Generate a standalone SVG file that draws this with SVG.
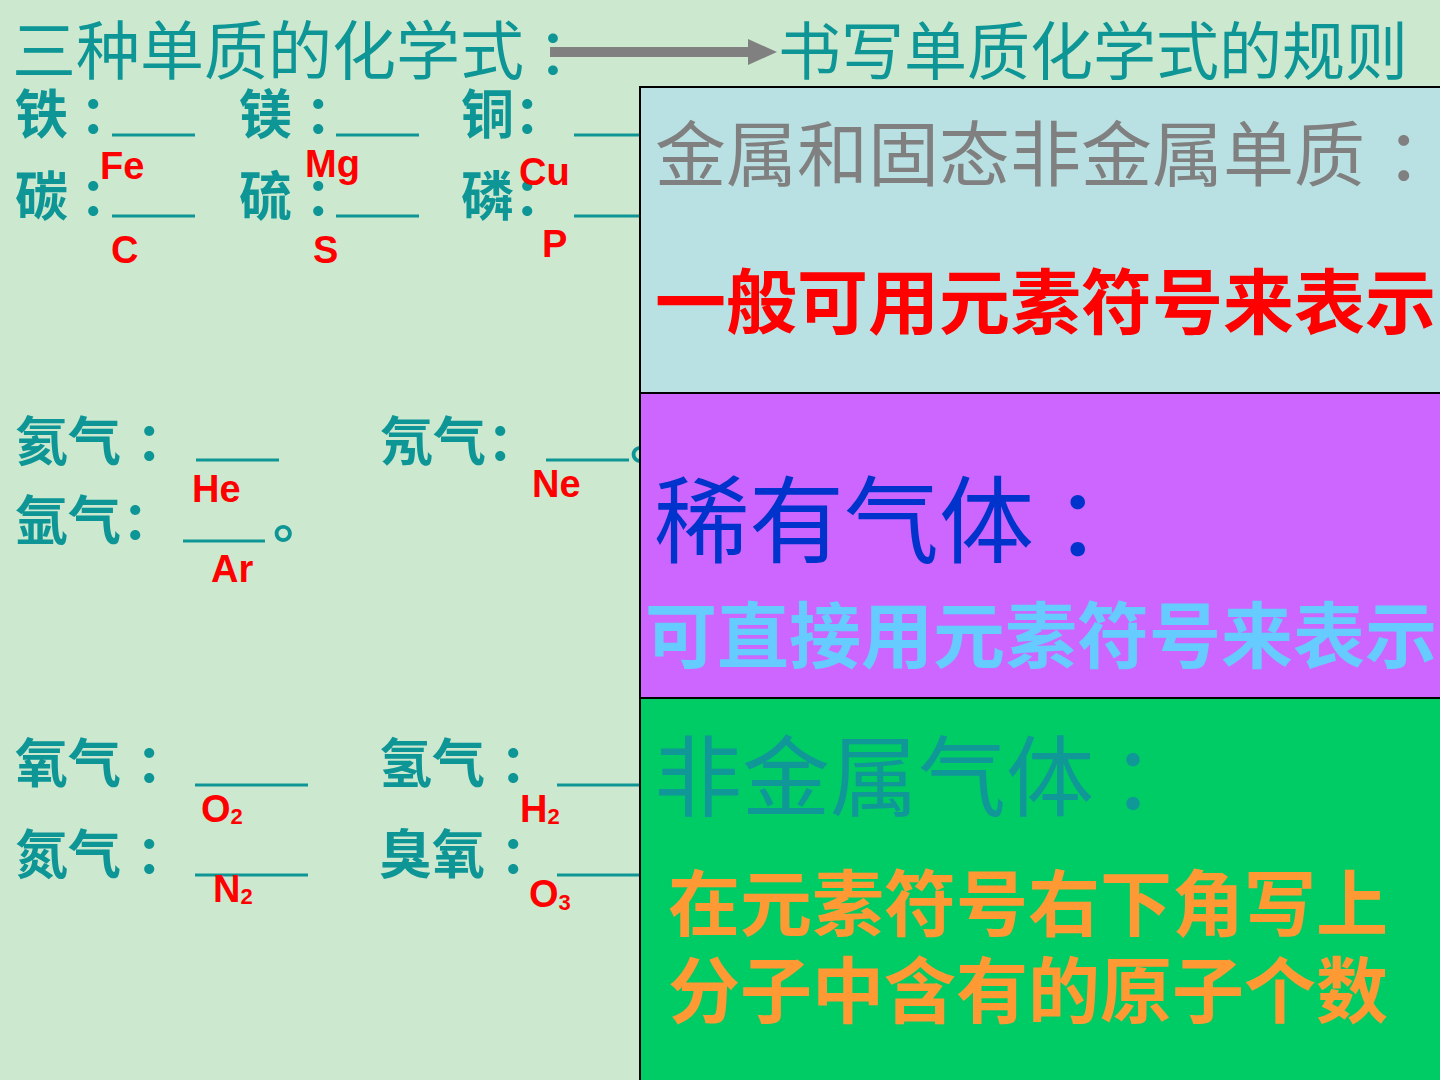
<svg xmlns="http://www.w3.org/2000/svg" width="1440" height="1080" viewBox="0 0 1440 1080">
<defs>
<style>
.cjk{font-family:"Noto Sans CJK SC","Noto Sans CJK TC",sans-serif}
.lbl{font-family:"Noto Sans CJK SC",sans-serif;font-weight:700;font-size:53px;fill:#0E9696}
.ul{stroke:#0E9696;stroke-width:3}
.el{font-family:"Liberation Sans",Arial,sans-serif;font-weight:700;font-size:38px;fill:#FF0000}
.sub{font-size:22px}
.box{stroke:#000;stroke-width:2}
</style>
</defs>
<rect x="0" y="0" width="1440" height="1080" fill="#CCE8CF"/>

<g id="title">
<text class="cjk" x="12" y="74" font-size="64" fill="#0E9696">三种单质的化学式<tspan x="537">：</tspan></text>
</g>
<g id="rules-title">
<text class="cjk" x="778" y="74" font-size="63" fill="#0E9696">书写单质化学式的规则</text>
</g>

<g id="connectors">
<line x1="550" y1="52" x2="752" y2="52" stroke="#808080" stroke-width="10"/>
<polygon points="748,39 777,52 748,65" fill="#808080"/>
</g>

<g id="solids">
<text class="lbl" x="15" y="134">铁<tspan x="80">：</tspan></text>
<text class="lbl" x="239" y="134">镁<tspan x="305">：</tspan></text>
<text class="lbl" x="461" y="134">铜<tspan x="514">：</tspan></text>
<text class="lbl" x="15" y="216">碳<tspan x="80">：</tspan></text>
<text class="lbl" x="239" y="216">硫<tspan x="305">：</tspan></text>
<text class="lbl" x="461" y="216">磷<tspan x="514">：</tspan></text>
<line class="ul" x1="112" y1="135" x2="195" y2="135"/>
<line class="ul" x1="336" y1="135" x2="419" y2="135"/>
<line class="ul" x1="574" y1="135" x2="642" y2="135"/>
<line class="ul" x1="112" y1="216" x2="195" y2="216"/>
<line class="ul" x1="336" y1="216" x2="419" y2="216"/>
<line class="ul" x1="574" y1="216" x2="642" y2="216"/>
<text class="el" x="100" y="179">Fe</text>
<text class="el" x="305" y="177">Mg</text>
<text class="el" x="519" y="185">Cu</text>
<text class="el" x="111" y="263">C</text>
<text class="el" x="313" y="263">S</text>
<text class="el" x="542" y="257">P</text>
</g>

<g id="noble">
<text class="lbl" x="15" y="461">氦气<tspan x="136">：</tspan></text>
<text class="lbl" x="380" y="461">氖气<tspan x="487">：</tspan></text>
<text class="lbl" x="15" y="540">氩气<tspan x="122">：</tspan></text>
<line class="ul" x1="196" y1="460" x2="279" y2="460"/>
<line class="ul" x1="546" y1="460" x2="629" y2="460"/>
<line class="ul" x1="183" y1="541" x2="265" y2="541"/>
<text class="lbl" x="630" y="459">。</text>
<text class="lbl" x="273" y="538">。</text>
<text class="el" x="192" y="502">He</text>
<text class="el" x="532" y="497">Ne</text>
<text class="el" x="211" y="582">Ar</text>
</g>

<g id="gases">
<text class="lbl" x="15" y="783">氧气<tspan x="136">：</tspan></text>
<text class="lbl" x="379" y="783">氢气<tspan x="500">：</tspan></text>
<text class="lbl" x="15" y="874">氮气<tspan x="136">：</tspan></text>
<text class="lbl" x="379" y="874">臭氧<tspan x="500">：</tspan></text>
<line class="ul" x1="195" y1="785" x2="308" y2="785"/>
<line class="ul" x1="557" y1="785" x2="642" y2="785"/>
<line class="ul" x1="195" y1="875" x2="308" y2="875"/>
<line class="ul" x1="557" y1="875" x2="642" y2="875"/>
<text class="el" x="201" y="822">O<tspan class="sub" dy="2">2</tspan></text>
<text class="el" x="520" y="822">H<tspan class="sub" dy="2">2</tspan></text>
<text class="el" x="213" y="902">N<tspan class="sub" dy="2">2</tspan></text>
<text class="el" x="529" y="907">O<tspan class="sub" dy="3">3</tspan></text>
</g>

<g id="rule-solid">
<rect class="box" x="640" y="87" width="810" height="306" fill="#B9E0E2"/>
<text class="cjk" x="655" y="180" font-size="71" fill="#808080">金属和固态非金属单质<tspan x="1386">：</tspan></text>
<text class="cjk" x="655" y="328" font-size="71" font-weight="700" fill="#FF0000">一般可用元素符号来表示</text>
</g>

<g id="rule-noble">
<rect class="box" x="640" y="393" width="810" height="305" fill="#CC66FF"/>
<text class="cjk" x="654" y="556" font-size="95" fill="#0033CC">稀有气体<tspan x="1054">：</tspan></text>
<text class="cjk" x="645" y="662" font-size="72" font-weight="700" fill="#66CCFF">可直接用元素符号来表示</text>
</g>

<g id="rule-gas">
<rect class="box" x="640" y="698" width="810" height="392" fill="#00CC66"/>
<text class="cjk" x="654" y="809" font-size="88" fill="#109898">非金属气体<tspan x="1111">：</tspan></text>
<text class="cjk" x="668" y="930" font-size="72" font-weight="700" fill="#FF9933">在元素符号右下角写上</text>
<text class="cjk" x="668" y="1017" font-size="72" font-weight="700" fill="#FF9933">分子中含有的原子个数</text>
</g>
</svg>
